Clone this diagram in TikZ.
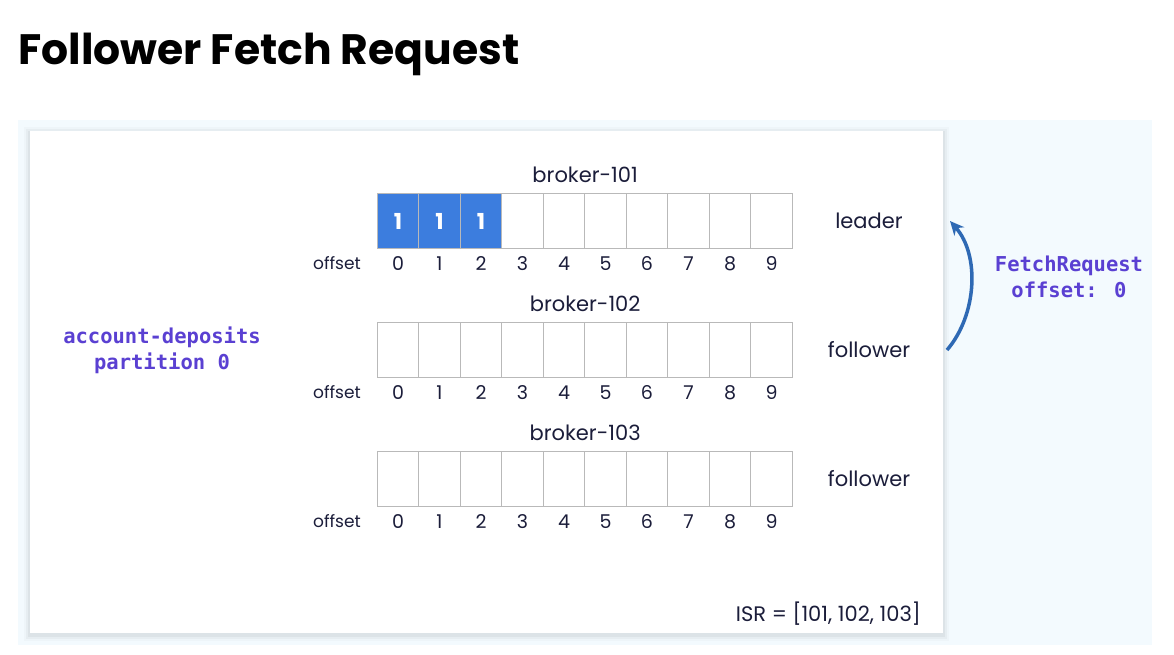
\documentclass[tikz,border=0pt]{standalone}
\usepackage{fontspec}
\setmainfont{Poppins}
\newfontfamily\codefont{DejaVu Sans Mono}
\usetikzlibrary{arrows.meta}

\definecolor{ink}{HTML}{1B1D3A}
\definecolor{panelbg}{HTML}{F3FAFE}
\definecolor{logblue}{HTML}{3C7DDE}
\definecolor{arrowblue}{HTML}{2E69B4}
\definecolor{codepurple}{HTML}{5A40D2}

\tikzset{
  cell/.style={draw=gray!55, line width=0.8pt, minimum width=41.5pt, minimum height=55pt, inner sep=0pt},
  fullcell/.style={cell, fill=logblue, text=white, font=\fontsize{22}{22}\selectfont\bfseries},
  num/.style={text=ink, font=\fontsize{19}{19}\selectfont, inner sep=0pt, anchor=base},
  rowtag/.style={text=ink, font=\fontsize{21}{21}\selectfont, inner sep=0pt},
  codetext/.style={text=codepurple, font=\codefont\bfseries\fontsize{20.5}{26}\selectfont, align=center, inner sep=0pt},
  fetch/.style={draw=arrowblue, line width=3.5pt, -{Stealth[length=14pt,width=13pt]}}
}

\begin{document}
\begin{tikzpicture}[x=1pt,y=-1pt]
\useasboundingbox (0,0) rectangle (1174,654);
\fill[white] (0,0) rectangle (1174,654);
\node[anchor=base west, inner sep=0pt, font=\fontsize{42.5}{42.5}\selectfont\bfseries] (title) at (18,64) {Follower Fetch Request};
\fill[panelbg] (18,120) rectangle (1152,645);
\foreach \s/\o in {6/0.02,4/0.03,2/0.04}
  \fill[black,opacity=\o] (30-\s,131-\s+2) rectangle (943+\s,633+\s+2);
\fill[white] (30,131) rectangle (943,633);

\foreach \r/\y/\who in {1/221/leader,2/350/follower,3/479/follower}{
  \foreach \i in {0,...,9}{
    \node[num] (n\r\i) at (398+41.5*\i,\y+49) {\i};
    \node[cell] (c\r\i) at (398+41.5*\i,\y) {};
  }
  \node[num, font=\fontsize{17}{17}\selectfont] (off\r) at (337,\y+48) {offset};
  \node[rowtag, above=10pt] (broker\r) at (c\r4.north east) {broker-10\r};
  \node[rowtag] (role\r) at (869,\y) {\who};
}
\foreach \i in {0,1,2}
  \node[fullcell] (f\i) at (c1\i) {1};

\node[codetext] (topic) at (162,350) {account-deposits\\partition 0};
\node[codetext] (req) at (1069,277) {FetchRequest\\offset: 0};
\node[rowtag, anchor=east] (isr) at (921,614) {ISR = [101, 102, 103]};

\coordinate (from) at (947,350);
\coordinate (to) at (950,221);
\draw[fetch] (from) .. controls (977,315) and (980,255) .. (to);
\end{tikzpicture}
\end{document}
